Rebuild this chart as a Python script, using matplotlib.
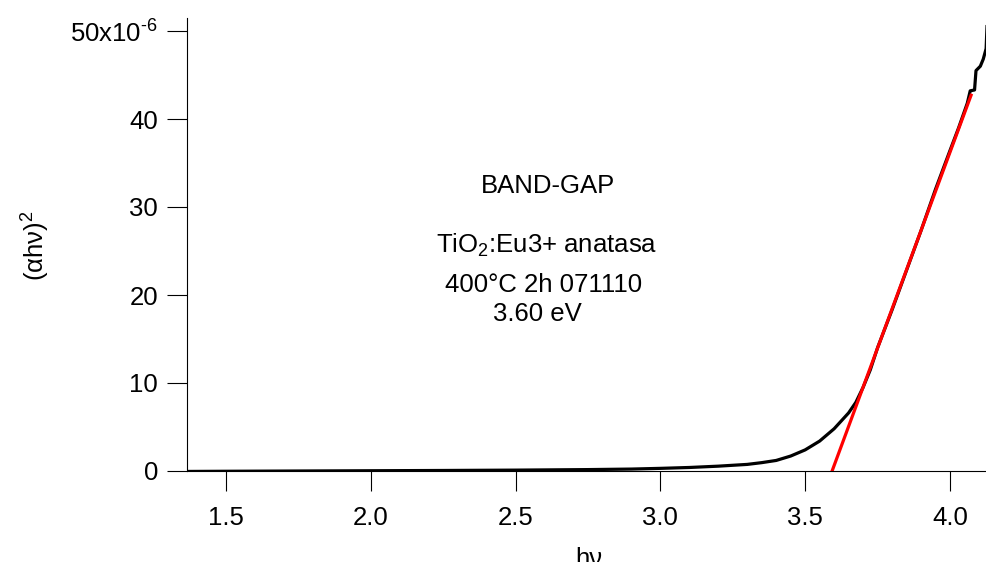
import matplotlib
matplotlib.use("Agg")
import matplotlib.pyplot as plt
import numpy as np
from matplotlib.ticker import FixedLocator, FixedFormatter

plt.rcParams['font.family'] = ['Liberation Sans', 'DejaVu Sans']
plt.rcParams['mathtext.fontset'] = 'custom'
plt.rcParams['mathtext.rm'] = 'Liberation Sans'
plt.rcParams['mathtext.it'] = 'Liberation Sans'
plt.rcParams['mathtext.default'] = 'regular'

# Data (y in units of 1e-6)
energy = [1.37, 1.5, 1.75, 2.0, 2.25, 2.5, 2.75, 2.9, 3.0, 3.1, 3.2, 3.3, 3.35, 3.4,
          3.45, 3.5, 3.55, 3.6, 3.625, 3.65, 3.675, 3.7, 3.725, 3.75, 3.8, 3.85,
          3.9, 3.95, 4.0, 4.03, 4.06, 4.07, 4.085, 4.09, 4.105, 4.115, 4.125, 4.128]
signal = [-0.05, -0.03, 0.0, 0.03, 0.06, 0.1, 0.16, 0.22, 0.3, 0.4, 0.55, 0.75, 0.95, 1.2,
          1.7, 2.4, 3.4, 4.8, 5.7, 6.6, 7.8, 9.5, 11.5, 14.0, 18.3, 22.8,
          27.3, 32.0, 36.4, 39.0, 41.8, 43.2, 43.3, 45.5, 46.0, 46.8, 48.0, 50.5]
fit_x = [3.593, 4.073]
fit_y = [0.0, 42.7]

yticks = [0, 10, 20, 30, 40, 50]
ytick_labels = ["0", "10", "20", "30", "40", r"50x10$^{\text{-6}}$"]
xticks = [1.5, 2.0, 2.5, 3.0, 3.5, 4.0]
xtick_labels = ["1.5", "2.0", "2.5", "3.0", "3.5", "4.0"]

W, H = 987, 562
fig = plt.figure(figsize=(W/100, H/100), dpi=100)
left, right, top, bottom = 187, 987, 18, 471
ax = fig.add_axes([left/W, 1-bottom/H, (right-left)/W, (bottom-top)/H])

ax.plot(energy, np.array(signal)*1e-6, color='black', lw=2.3, solid_joinstyle='round')
ax.plot(fit_x, np.array(fit_y)*1e-6, color='#ff0000', lw=2.3)

ax.set_xlim(1.365, 4.128)
ax.set_ylim(0, (bottom-top)/8.8*1e-6)

ax.yaxis.set_major_locator(FixedLocator(np.array(yticks)*1e-6))
ax.yaxis.set_major_formatter(FixedFormatter(ytick_labels))
ax.xaxis.set_major_locator(FixedLocator(xticks))
ax.xaxis.set_major_formatter(FixedFormatter(xtick_labels))

for s in ['top', 'right']:
    ax.spines[s].set_visible(False)
for s in ['left', 'bottom']:
    ax.spines[s].set_linewidth(0.8)
fs = 18.5
ax.tick_params(axis='both', direction='out', length=14.4, width=0.8, labelsize=fs)
ax.tick_params(axis='y', pad=6.5)
ax.tick_params(axis='x', pad=10.5)

fig.text(36/W, 1-246/H, "(αhν)$^2$", rotation=90, ha='center', va='center', fontsize=fs)
fig.text(589/W, 1-566/H, "hν", ha='center', va='baseline', fontsize=fs)

fig.text(548/W, 1-193/H, "BAND-GAP", ha='center', va='baseline', fontsize=fs)
fig.text(547/W, 1-253/H, "TiO$_2$:Eu3+ anatasa", ha='center', va='baseline', fontsize=fs)
fig.text(544/W, 1-292/H, "400°C 2h 071110", ha='center', va='baseline', fontsize=fs)
fig.text(537/W, 1-321/H, "3.60 eV", ha='center', va='baseline', fontsize=fs)

fig.savefig("out.png", dpi=100)
